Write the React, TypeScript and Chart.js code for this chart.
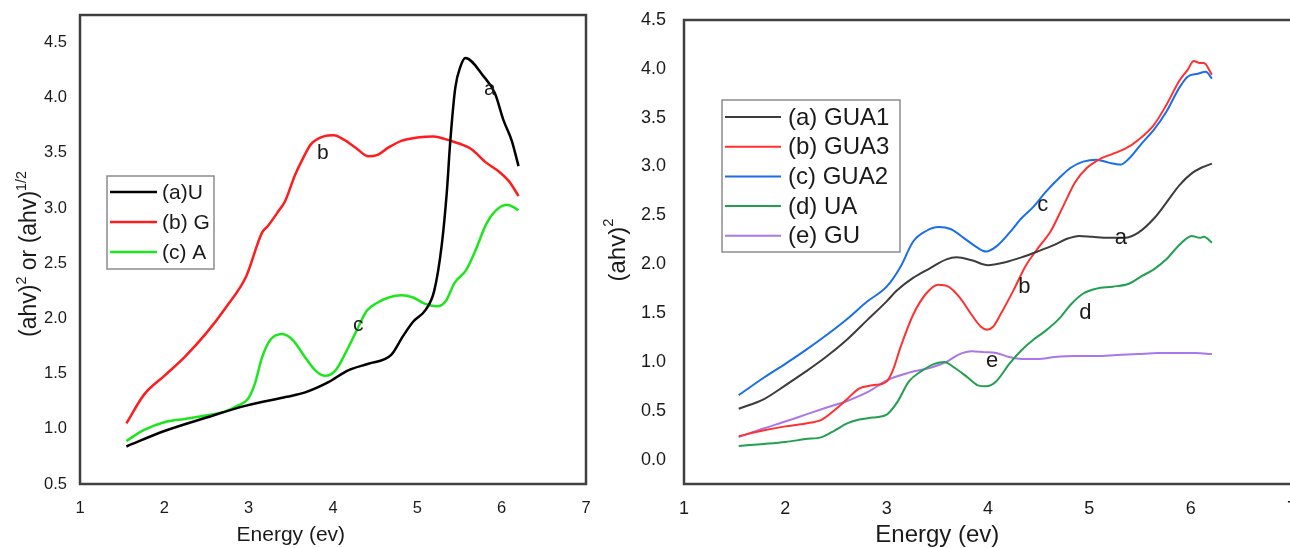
import React, { useEffect, useRef } from "react";
import { Chart, registerables } from "chart.js";

Chart.register(...registerables);

const FONT = "'Liberation Sans', Arial, Helvetica, sans-serif";
const TEXT = "#1a1a1a";

// ---------------- Left panel data ----------------
const leftXTicks = [1, 2, 3, 4, 5, 6, 7];
const leftYTicks = [0.5, 1.0, 1.5, 2.0, 2.5, 3.0, 3.5, 4.0, 4.5];

const uEnergy = [1.55, 2.0, 2.49, 2.97, 3.45, 3.67, 3.94, 4.18, 4.42, 4.69, 4.83, 4.95, 5.1, 5.2, 5.29, 5.35, 5.39, 5.45, 5.51, 5.57, 5.78, 5.92, 6.02, 6.12, 6.2];
const uValues = [0.84, 0.98, 1.1, 1.21, 1.29, 1.33, 1.42, 1.53, 1.59, 1.67, 1.84, 1.97, 2.08, 2.25, 2.67, 3.15, 3.6, 4.09, 4.28, 4.36, 4.2, 4.04, 3.8, 3.61, 3.38];

const gEnergy = [1.55, 1.76, 2.0, 2.24, 2.49, 2.73, 2.97, 3.16, 3.23, 3.36, 3.43, 3.55, 3.65, 3.74, 3.89, 4.01, 4.13, 4.28, 4.42, 4.52, 4.66, 4.81, 5.0, 5.19, 5.39, 5.63, 5.82, 5.97, 6.09, 6.2];
const gValues = [1.05, 1.31, 1.48, 1.65, 1.86, 2.1, 2.38, 2.78, 2.84, 2.98, 3.06, 3.3, 3.46, 3.58, 3.65, 3.66, 3.62, 3.54, 3.47, 3.48, 3.55, 3.61, 3.64, 3.65, 3.61, 3.54, 3.41, 3.33, 3.24, 3.11];

const aEnergy = [1.55, 1.76, 2.0, 2.24, 2.49, 2.73, 2.87, 2.99, 3.07, 3.16, 3.26, 3.4, 3.53, 3.65, 3.79, 3.91, 4.03, 4.15, 4.28, 4.4, 4.52, 4.66, 4.81, 4.95, 5.1, 5.24, 5.34, 5.44, 5.58, 5.68, 5.82, 5.92, 6.06, 6.14, 6.2];
const aValues = [0.89, 0.99, 1.06, 1.09, 1.12, 1.16, 1.21, 1.27, 1.4, 1.65, 1.81, 1.86, 1.8, 1.67, 1.53, 1.48, 1.53, 1.69, 1.89, 2.07, 2.14, 2.19, 2.21, 2.19, 2.13, 2.11, 2.16, 2.32, 2.44, 2.6, 2.86, 2.97, 3.03, 3.01, 2.98];

const leftLabels = ["(a)U", "(b) G", "(c) A"];
const leftCurveTags = ["a", "b", "c"];
const leftTagX = [5.86, 3.88, 4.3];
const leftTagY = [4.08, 3.5, 1.94];

// ---------------- Right panel data ----------------
const rightXTicks = [1, 2, 3, 4, 5, 6, 7];
const rightYTicks = [0.0, 0.5, 1.0, 1.5, 2.0, 2.5, 3.0, 3.5, 4.0, 4.5];

const gua1Energy = [1.54, 1.79, 2.0, 2.2, 2.4, 2.61, 2.81, 3.0, 3.1, 3.26, 3.43, 3.59, 3.69, 3.84, 4.0, 4.17, 4.33, 4.49, 4.66, 4.78, 4.9, 5.03, 5.19, 5.35, 5.48, 5.64, 5.76, 5.89, 6.01, 6.11, 6.21];
const gua1Values = [0.52, 0.62, 0.76, 0.9, 1.05, 1.23, 1.43, 1.62, 1.73, 1.86, 1.96, 2.05, 2.07, 2.04, 1.99, 2.02, 2.07, 2.13, 2.2, 2.26, 2.29, 2.28, 2.27, 2.27, 2.32, 2.47, 2.63, 2.81, 2.93, 2.99, 3.03];

const gua3Energy = [1.54, 1.79, 2.0, 2.2, 2.36, 2.49, 2.61, 2.73, 2.86, 3.0, 3.06, 3.14, 3.26, 3.39, 3.51, 3.61, 3.72, 3.84, 3.93, 3.99, 4.05, 4.12, 4.25, 4.37, 4.49, 4.62, 4.74, 4.86, 4.98, 5.11, 5.23, 5.35, 5.48, 5.64, 5.76, 5.89, 5.97, 6.03, 6.09, 6.13, 6.21];
const gua3Values = [0.24, 0.3, 0.34, 0.37, 0.41, 0.51, 0.62, 0.73, 0.76, 0.8, 0.91, 1.16, 1.48, 1.7, 1.79, 1.77, 1.66, 1.48, 1.36, 1.33, 1.36, 1.48, 1.73, 1.98, 2.16, 2.34, 2.59, 2.84, 2.99, 3.08, 3.13, 3.18, 3.27, 3.43, 3.63, 3.88, 3.99, 4.08, 4.06, 4.06, 3.94];

const gua2Energy = [1.54, 1.79, 2.0, 2.2, 2.4, 2.61, 2.81, 3.0, 3.14, 3.26, 3.39, 3.51, 3.63, 3.76, 3.88, 3.98, 4.08, 4.21, 4.33, 4.45, 4.57, 4.7, 4.82, 4.94, 5.07, 5.19, 5.31, 5.39, 5.52, 5.64, 5.76, 5.89, 5.97, 6.07, 6.15, 6.21];
const gua2Values = [0.66, 0.84, 0.98, 1.12, 1.27, 1.44, 1.62, 1.77, 1.98, 2.23, 2.34, 2.38, 2.36, 2.27, 2.18, 2.13, 2.18, 2.32, 2.47, 2.59, 2.74, 2.88, 2.99, 3.05, 3.07, 3.04, 3.02, 3.08, 3.24, 3.38, 3.56, 3.81, 3.92, 3.95, 3.97, 3.9];

const uaEnergy = [1.54, 1.79, 2.0, 2.2, 2.36, 2.49, 2.61, 2.73, 2.86, 3.0, 3.1, 3.22, 3.35, 3.47, 3.57, 3.67, 3.8, 3.9, 3.98, 4.08, 4.21, 4.33, 4.45, 4.57, 4.7, 4.82, 4.94, 5.07, 5.23, 5.39, 5.52, 5.64, 5.76, 5.89, 6.01, 6.09, 6.13, 6.21];
const uaValues = [0.14, 0.16, 0.18, 0.21, 0.23, 0.3, 0.37, 0.41, 0.43, 0.46, 0.58, 0.8, 0.91, 0.98, 1.0, 0.94, 0.84, 0.76, 0.75, 0.8, 0.98, 1.12, 1.23, 1.32, 1.44, 1.59, 1.7, 1.75, 1.77, 1.8, 1.88, 1.95, 2.05, 2.2, 2.29, 2.27, 2.28, 2.22];

const guEnergy = [1.54, 1.79, 2.0, 2.2, 2.4, 2.61, 2.81, 3.02, 3.22, 3.43, 3.59, 3.72, 3.84, 3.96, 4.08, 4.21, 4.33, 4.49, 4.66, 4.86, 5.07, 5.27, 5.48, 5.68, 5.89, 6.05, 6.21];
const guValues = [0.23, 0.32, 0.39, 0.46, 0.53, 0.6, 0.69, 0.82, 0.89, 0.94, 1.0, 1.08, 1.11, 1.1, 1.09, 1.05, 1.03, 1.03, 1.05, 1.06, 1.06, 1.07, 1.08, 1.09, 1.09, 1.09, 1.08];

const rightLabels = ["(a) GUA1", "(b) GUA3", "(c) GUA2", "(d) UA", "(e) GU"];
const rightCurveTags = ["a", "b", "c", "d", "e"];
const rightTagX = [5.31, 4.36, 4.54, 4.96, 4.04];
const rightTagY = [2.27, 1.77, 2.61, 1.5, 1.01];

// ---------------- helpers ----------------
const pts = (xs: number[], ys: number[]) => xs.map((x, i) => ({ x, y: ys[i] }));

const decorPlugin = {
  id: "decor",
  afterDraw(chart: any, _args: any, o: any) {
    const ctx = chart.ctx as CanvasRenderingContext2D;
    const { left, right, top, bottom } = chart.chartArea;
    const xs = chart.scales.x;
    const ys = chart.scales.y;
    ctx.save();
    // frame
    ctx.strokeStyle = o.frameColor;
    ctx.lineWidth = o.frameWidth;
    ctx.beginPath();
    if (o.openRight) {
      ctx.moveTo(chart.width, top);
      ctx.lineTo(left, top);
      ctx.lineTo(left, bottom);
      ctx.lineTo(chart.width, bottom);
    } else {
      ctx.rect(left, top, right - left, bottom - top);
    }
    ctx.stroke();

    // curve tags
    ctx.fillStyle = TEXT;
    ctx.font = `${o.tagSize}px ${FONT}`;
    ctx.textAlign = "center";
    ctx.textBaseline = "middle";
    o.tags.forEach((t: string, i: number) => {
      ctx.fillText(t, xs.getPixelForValue(o.tagX[i]), ys.getPixelForValue(o.tagY[i]));
    });

    // legend
    const L = o.legend;
    ctx.strokeStyle = "#8c8c8c";
    ctx.lineWidth = 1.5;
    ctx.strokeRect(L.x, L.y, L.w, L.h);
    ctx.font = `${L.size}px ${FONT}`;
    ctx.textAlign = "left";
    ctx.textBaseline = "middle";
    chart.data.datasets.forEach((ds: any, i: number) => {
      const y = L.row0 + i * L.gap;
      ctx.strokeStyle = ds.borderColor;
      ctx.lineWidth = L.lineWidth;
      ctx.beginPath();
      ctx.moveTo(L.lx0, y);
      ctx.lineTo(L.lx1, y);
      ctx.stroke();
      ctx.fillStyle = TEXT;
      ctx.fillText(ds.label, L.tx, y + 1);
    });

    // x title
    ctx.font = `${o.xTitle.size}px ${FONT}`;
    ctx.textAlign = "center";
    ctx.textBaseline = "alphabetic";
    ctx.fillText(o.xTitle.text, xs.getPixelForValue(o.xTitle.at), o.xTitle.baseline);

    // y title with superscripts
    const T = o.yTitle;
    ctx.translate(T.cx, T.cy);
    ctx.rotate(-Math.PI / 2);
    ctx.textBaseline = "middle";
    let total = 0;
    T.parts.forEach((p: any) => {
      ctx.font = `${p.sup ? T.size * 0.62 : T.size}px ${FONT}`;
      total += ctx.measureText(p.text).width;
    });
    let x = -total / 2;
    ctx.textAlign = "left";
    T.parts.forEach((p: any) => {
      ctx.font = `${p.sup ? T.size * 0.62 : T.size}px ${FONT}`;
      ctx.fillText(p.text, x, p.sup ? -T.size * 0.36 : 0);
      x += ctx.measureText(p.text).width;
    });
    ctx.restore();
  },
};

function axisOpts(min: number, max: number, ticks: number[], size: number, pad: number, fit: (s: any) => void, fmt: (v: number) => string) {
  return {
    type: "linear",
    min,
    max,
    bounds: "data",
    afterBuildTicks: (s: any) => {
      s.ticks = ticks.map((value) => ({ value }));
    },
    afterFit: (s: any) => {
      fit(s);
      s.paddingTop = 0;
      s.paddingBottom = 0;
      s.paddingLeft = 0;
      s.paddingRight = 0;
    },
    grid: { display: false, drawTicks: false },
    border: { display: false },
    ticks: {
      padding: pad,
      autoSkip: false,
      maxRotation: 0,
      color: TEXT,
      font: { family: FONT, size },
      callback: (v: any) => fmt(Number(v)),
    },
  };
}

function buildLeft(): any {
  const colors = ["#000000", "#ff1c1c", "#1ee61e"];
  const sets = [pts(uEnergy, uValues), pts(gEnergy, gValues), pts(aEnergy, aValues)];
  return {
    type: "line",
    data: {
      datasets: sets.map((d, i) => ({
        label: leftLabels[i],
        data: d,
        borderColor: colors[i],
        borderWidth: 2.5,
        pointRadius: 0,
        fill: false,
        cubicInterpolationMode: "monotone",
      })),
    },
    plugins: [decorPlugin],
    options: {
      animation: false,
      responsive: false,
      maintainAspectRatio: false,
      layout: { padding: { top: 15, right: 14, left: 0, bottom: 0 } },
      events: [],
      plugins: {
        legend: { display: false },
        tooltip: { enabled: false },
        decor: {
          frameColor: "#404040",
          frameWidth: 2.5,
          openRight: false,
          tagSize: 21,
          tags: leftCurveTags,
          tagX: leftTagX,
          tagY: leftTagY,
          legend: { x: 107, y: 176, w: 107, h: 93, size: 21, row0: 192, gap: 30, lx0: 110, lx1: 157, tx: 162, lineWidth: 2.5 },
          xTitle: { text: "Energy (ev)", size: 21, at: 3.5, baseline: 541 },
          yTitle: {
            cx: 30,
            cy: 254,
            size: 23,
            parts: [
              { text: "(ahv)", sup: false },
              { text: "2", sup: true },
              { text: " or (ahv)", sup: false },
              { text: "1/2", sup: true },
            ],
          },
        },
      },
      scales: {
        x: axisOpts(1, 7, leftXTicks, 16.5, 15, (s: any) => { s.height = 64; }, (v) => String(v)),
        y: axisOpts(0.5, 4.75, leftYTicks, 16.5, 13, (s: any) => { s.width = 80; }, (v) => v.toFixed(1)),
      },
    },
  };
}

function buildRight(): any {
  const colors = ["#3c3c3c", "#ff3030", "#1a6ee8", "#22a050", "#a978e8"];
  const sets = [
    pts(gua1Energy, gua1Values),
    pts(gua3Energy, gua3Values),
    pts(gua2Energy, gua2Values),
    pts(uaEnergy, uaValues),
    pts(guEnergy, guValues),
  ];
  return {
    type: "line",
    data: {
      datasets: sets.map((d, i) => ({
        label: rightLabels[i],
        data: d,
        borderColor: colors[i],
        borderWidth: 2,
        pointRadius: 0,
        fill: false,
        cubicInterpolationMode: "monotone",
      })),
    },
    plugins: [decorPlugin],
    options: {
      animation: false,
      responsive: false,
      maintainAspectRatio: false,
      layout: { padding: { top: 20, right: 8, left: 0, bottom: 0 } },
      events: [],
      plugins: {
        legend: { display: false },
        tooltip: { enabled: false },
        decor: {
          frameColor: "#404040",
          frameWidth: 2.5,
          openRight: true,
          tagSize: 22,
          tags: rightCurveTags,
          tagX: rightTagX,
          tagY: rightTagY,
          legend: { x: 122, y: 100, w: 178, h: 152, size: 24, row0: 117, gap: 29.7, lx0: 125, lx1: 181, tx: 188, lineWidth: 2 },
          xTitle: { text: "Energy (ev)", size: 24, at: 3.5, baseline: 542 },
          yTitle: {
            cx: 18,
            cy: 250,
            size: 24,
            parts: [
              { text: "(ahv)", sup: false },
              { text: "2", sup: true },
            ],
          },
        },
      },
      scales: {
        x: axisOpts(1, 7, rightXTicks, 18, 14, (s: any) => { s.height = 64; }, (v) => String(v)),
        y: axisOpts(-0.25, 4.5, rightYTicks, 18, 18, (s: any) => { s.width = 84; }, (v) => v.toFixed(1)),
      },
    },
  };
}

export default function App() {
  const leftRef = useRef<HTMLCanvasElement>(null);
  const rightRef = useRef<HTMLCanvasElement>(null);

  useEffect(() => {
    const c1 = new Chart(leftRef.current as HTMLCanvasElement, buildLeft());
    const c2 = new Chart(rightRef.current as HTMLCanvasElement, buildRight());
    return () => {
      c1.destroy();
      c2.destroy();
    };
  }, []);

  return (
    <div style={{ position: "absolute", left: 0, top: 0, width: 1290, height: 548, overflow: "hidden", background: "#ffffff" }}>
      <canvas ref={leftRef} width={600} height={548} style={{ position: "absolute", left: 0, top: 0 }} />
      <canvas ref={rightRef} width={700} height={548} style={{ position: "absolute", left: 600, top: 0 }} />
    </div>
  );
}
